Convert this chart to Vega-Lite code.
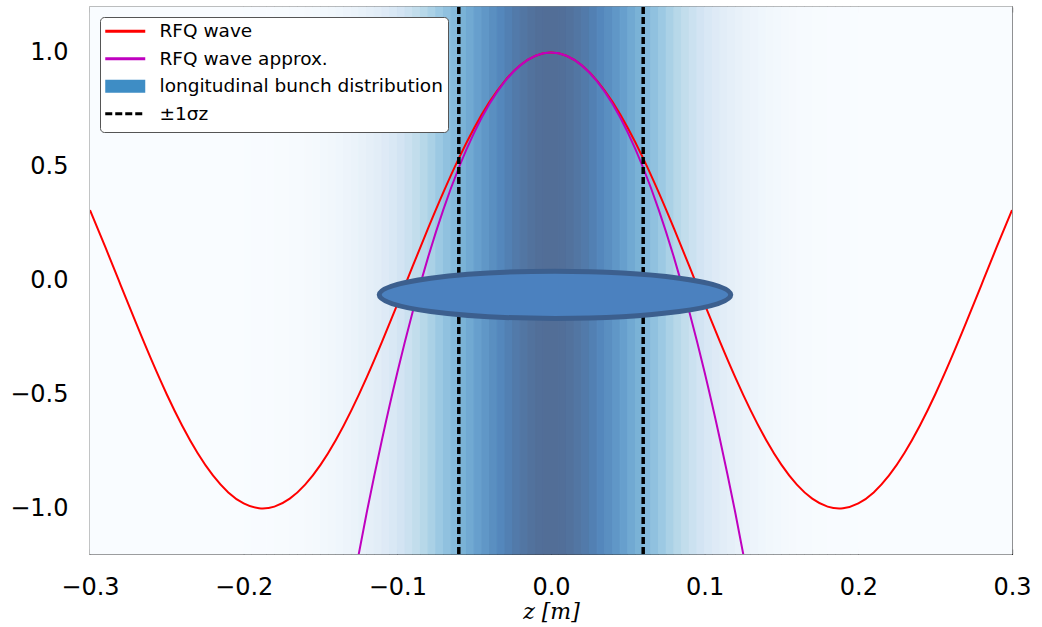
{
  "$schema": "https://vega.github.io/schema/vega-lite/v6.json",
  "width": 922,
  "height": 547,
  "autosize": {"type": "none"},
  "padding": {"left": 90, "top": 7, "right": 30, "bottom": 73},
  "background": "white",
  "config": {
    "view": {"stroke": "black", "strokeWidth": 1.3},
    "axis": {"grid": false, "domain": false, "labelFont": "DejaVu Sans", "labelFontSize": 24, "labelColor": "black", "tickColor": "black", "tickSize": -5, "tickWidth": 1.2, "labelFlush": false, "labelOverlap": false, "zindex": 1},
    "legend": {
      "orient": "top-left", "offset": 10, "padding": 5,
      "fillColor": "white", "strokeColor": "#555555", "cornerRadius": 4,
      "labelFont": "DejaVu Sans", "labelFontSize": 18.5, "labelColor": "black", "labelLimit": 500,
      "symbolSize": 16, "symbolStrokeWidth": 3, "symbolOffset": 11, "labelOffset": 25, "rowPadding": 1.5
    }
  },
  "datasets": {
    "bunch": [
      {"z0": -0.3, "z1": -0.2, "d": 0.001},
      {"z0": -0.2, "z1": -0.195, "d": 0.0044},
      {"z0": -0.195, "z1": -0.19, "d": 0.0058},
      {"z0": -0.19, "z1": -0.185, "d": 0.0076},
      {"z0": -0.185, "z1": -0.18, "d": 0.0098},
      {"z0": -0.18, "z1": -0.175, "d": 0.0126},
      {"z0": -0.175, "z1": -0.17, "d": 0.016},
      {"z0": -0.17, "z1": -0.165, "d": 0.0203},
      {"z0": -0.165, "z1": -0.16, "d": 0.0255},
      {"z0": -0.16, "z1": -0.155, "d": 0.0319},
      {"z0": -0.155, "z1": -0.15, "d": 0.0396},
      {"z0": -0.15, "z1": -0.145, "d": 0.0487},
      {"z0": -0.145, "z1": -0.14, "d": 0.0596},
      {"z0": -0.14, "z1": -0.135, "d": 0.0724},
      {"z0": -0.135, "z1": -0.13, "d": 0.0873},
      {"z0": -0.13, "z1": -0.125, "d": 0.1046},
      {"z0": -0.125, "z1": -0.12, "d": 0.1244},
      {"z0": -0.12, "z1": -0.115, "d": 0.147},
      {"z0": -0.115, "z1": -0.11, "d": 0.1724},
      {"z0": -0.11, "z1": -0.105, "d": 0.2009},
      {"z0": -0.105, "z1": -0.1, "d": 0.2324},
      {"z0": -0.1, "z1": -0.095, "d": 0.2671},
      {"z0": -0.095, "z1": -0.09, "d": 0.3047},
      {"z0": -0.09, "z1": -0.085, "d": 0.3453},
      {"z0": -0.085, "z1": -0.08, "d": 0.3886},
      {"z0": -0.08, "z1": -0.075, "d": 0.4342},
      {"z0": -0.075, "z1": -0.07, "d": 0.4819},
      {"z0": -0.07, "z1": -0.065, "d": 0.5311},
      {"z0": -0.065, "z1": -0.06, "d": 0.5813},
      {"z0": -0.06, "z1": -0.055, "d": 0.6318},
      {"z0": -0.055, "z1": -0.05, "d": 0.6819},
      {"z0": -0.05, "z1": -0.045, "d": 0.731},
      {"z0": -0.045, "z1": -0.04, "d": 0.7781},
      {"z0": -0.04, "z1": -0.035, "d": 0.8226},
      {"z0": -0.035, "z1": -0.03, "d": 0.8636},
      {"z0": -0.03, "z1": -0.025, "d": 0.9003},
      {"z0": -0.025, "z1": -0.02, "d": 0.9321},
      {"z0": -0.02, "z1": -0.015, "d": 0.9584},
      {"z0": -0.015, "z1": -0.01, "d": 0.9785},
      {"z0": -0.01, "z1": -0.005, "d": 0.9922},
      {"z0": -0.005, "z1": 0, "d": 0.9991},
      {"z0": 0, "z1": 0.005, "d": 0.9991},
      {"z0": 0.005, "z1": 0.01, "d": 0.9922},
      {"z0": 0.01, "z1": 0.015, "d": 0.9785},
      {"z0": 0.015, "z1": 0.02, "d": 0.9584},
      {"z0": 0.02, "z1": 0.025, "d": 0.9321},
      {"z0": 0.025, "z1": 0.03, "d": 0.9003},
      {"z0": 0.03, "z1": 0.035, "d": 0.8636},
      {"z0": 0.035, "z1": 0.04, "d": 0.8226},
      {"z0": 0.04, "z1": 0.045, "d": 0.7781},
      {"z0": 0.045, "z1": 0.05, "d": 0.731},
      {"z0": 0.05, "z1": 0.055, "d": 0.6819},
      {"z0": 0.055, "z1": 0.06, "d": 0.6318},
      {"z0": 0.06, "z1": 0.065, "d": 0.5813},
      {"z0": 0.065, "z1": 0.07, "d": 0.5311},
      {"z0": 0.07, "z1": 0.075, "d": 0.4819},
      {"z0": 0.075, "z1": 0.08, "d": 0.4342},
      {"z0": 0.08, "z1": 0.085, "d": 0.3886},
      {"z0": 0.085, "z1": 0.09, "d": 0.3453},
      {"z0": 0.09, "z1": 0.095, "d": 0.3047},
      {"z0": 0.095, "z1": 0.1, "d": 0.2671},
      {"z0": 0.1, "z1": 0.105, "d": 0.2324},
      {"z0": 0.105, "z1": 0.11, "d": 0.2009},
      {"z0": 0.11, "z1": 0.115, "d": 0.1724},
      {"z0": 0.115, "z1": 0.12, "d": 0.147},
      {"z0": 0.12, "z1": 0.125, "d": 0.1244},
      {"z0": 0.125, "z1": 0.13, "d": 0.1046},
      {"z0": 0.13, "z1": 0.135, "d": 0.0873},
      {"z0": 0.135, "z1": 0.14, "d": 0.0724},
      {"z0": 0.14, "z1": 0.145, "d": 0.0596},
      {"z0": 0.145, "z1": 0.15, "d": 0.0487},
      {"z0": 0.15, "z1": 0.155, "d": 0.0396},
      {"z0": 0.155, "z1": 0.16, "d": 0.0319},
      {"z0": 0.16, "z1": 0.165, "d": 0.0255},
      {"z0": 0.165, "z1": 0.17, "d": 0.0203},
      {"z0": 0.17, "z1": 0.175, "d": 0.016},
      {"z0": 0.175, "z1": 0.18, "d": 0.0126},
      {"z0": 0.18, "z1": 0.185, "d": 0.0098},
      {"z0": 0.185, "z1": 0.19, "d": 0.0076},
      {"z0": 0.19, "z1": 0.195, "d": 0.0058},
      {"z0": 0.195, "z1": 0.2, "d": 0.0044},
      {"z0": 0.2, "z1": 0.3, "d": 0.001}
    ],
    "waves": [
      {"z": -0.3, "y": 0.309, "s": "RFQ wave"},
      {"z": -0.29, "y": 0.1461, "s": "RFQ wave"},
      {"z": -0.28, "y": -0.0209, "s": "RFQ wave"},
      {"z": -0.27, "y": -0.1874, "s": "RFQ wave"},
      {"z": -0.26, "y": -0.3486, "s": "RFQ wave"},
      {"z": -0.25, "y": -0.5, "s": "RFQ wave"},
      {"z": -0.24, "y": -0.6374, "s": "RFQ wave"},
      {"z": -0.23, "y": -0.757, "s": "RFQ wave"},
      {"z": -0.22, "y": -0.8554, "s": "RFQ wave"},
      {"z": -0.21, "y": -0.9298, "s": "RFQ wave"},
      {"z": -0.2, "y": -0.9781, "s": "RFQ wave"},
      {"z": -0.19, "y": -0.9991, "s": "RFQ wave"},
      {"z": -0.18, "y": -0.9921, "s": "RFQ wave"},
      {"z": -0.17, "y": -0.9573, "s": "RFQ wave"},
      {"z": -0.16, "y": -0.8957, "s": "RFQ wave"},
      {"z": -0.15, "y": -0.809, "s": "RFQ wave"},
      {"z": -0.14, "y": -0.6997, "s": "RFQ wave"},
      {"z": -0.13, "y": -0.5707, "s": "RFQ wave"},
      {"z": -0.12, "y": -0.4258, "s": "RFQ wave"},
      {"z": -0.11, "y": -0.2689, "s": "RFQ wave"},
      {"z": -0.1, "y": -0.1045, "s": "RFQ wave"},
      {"z": -0.09, "y": 0.0628, "s": "RFQ wave"},
      {"z": -0.08, "y": 0.2284, "s": "RFQ wave"},
      {"z": -0.07, "y": 0.3875, "s": "RFQ wave"},
      {"z": -0.06, "y": 0.5358, "s": "RFQ wave"},
      {"z": -0.05, "y": 0.6691, "s": "RFQ wave"},
      {"z": -0.04, "y": 0.7837, "s": "RFQ wave"},
      {"z": -0.03, "y": 0.8763, "s": "RFQ wave"},
      {"z": -0.02, "y": 0.9444, "s": "RFQ wave"},
      {"z": -0.01, "y": 0.986, "s": "RFQ wave"},
      {"z": 0, "y": 1, "s": "RFQ wave"},
      {"z": 0.01, "y": 0.986, "s": "RFQ wave"},
      {"z": 0.02, "y": 0.9444, "s": "RFQ wave"},
      {"z": 0.03, "y": 0.8763, "s": "RFQ wave"},
      {"z": 0.04, "y": 0.7837, "s": "RFQ wave"},
      {"z": 0.05, "y": 0.6691, "s": "RFQ wave"},
      {"z": 0.06, "y": 0.5358, "s": "RFQ wave"},
      {"z": 0.07, "y": 0.3875, "s": "RFQ wave"},
      {"z": 0.08, "y": 0.2284, "s": "RFQ wave"},
      {"z": 0.09, "y": 0.0628, "s": "RFQ wave"},
      {"z": 0.1, "y": -0.1045, "s": "RFQ wave"},
      {"z": 0.11, "y": -0.2689, "s": "RFQ wave"},
      {"z": 0.12, "y": -0.4258, "s": "RFQ wave"},
      {"z": 0.13, "y": -0.5707, "s": "RFQ wave"},
      {"z": 0.14, "y": -0.6997, "s": "RFQ wave"},
      {"z": 0.15, "y": -0.809, "s": "RFQ wave"},
      {"z": 0.16, "y": -0.8957, "s": "RFQ wave"},
      {"z": 0.17, "y": -0.9573, "s": "RFQ wave"},
      {"z": 0.18, "y": -0.9921, "s": "RFQ wave"},
      {"z": 0.19, "y": -0.9991, "s": "RFQ wave"},
      {"z": 0.2, "y": -0.9781, "s": "RFQ wave"},
      {"z": 0.21, "y": -0.9298, "s": "RFQ wave"},
      {"z": 0.22, "y": -0.8554, "s": "RFQ wave"},
      {"z": 0.23, "y": -0.757, "s": "RFQ wave"},
      {"z": 0.24, "y": -0.6374, "s": "RFQ wave"},
      {"z": 0.25, "y": -0.5, "s": "RFQ wave"},
      {"z": 0.26, "y": -0.3486, "s": "RFQ wave"},
      {"z": 0.27, "y": -0.1874, "s": "RFQ wave"},
      {"z": 0.28, "y": -0.0209, "s": "RFQ wave"},
      {"z": 0.29, "y": 0.1461, "s": "RFQ wave"},
      {"z": 0.3, "y": 0.309, "s": "RFQ wave"},
      {"z": -0.13, "y": -1.3722, "s": "RFQ wave approx."},
      {"z": -0.12, "y": -1.0213, "s": "RFQ wave approx."},
      {"z": -0.11, "y": -0.6985, "s": "RFQ wave approx."},
      {"z": -0.1, "y": -0.4037, "s": "RFQ wave approx."},
      {"z": -0.09, "y": -0.137, "s": "RFQ wave approx."},
      {"z": -0.08, "y": 0.1016, "s": "RFQ wave approx."},
      {"z": -0.07, "y": 0.3122, "s": "RFQ wave approx."},
      {"z": -0.06, "y": 0.4947, "s": "RFQ wave approx."},
      {"z": -0.05, "y": 0.6491, "s": "RFQ wave approx."},
      {"z": -0.04, "y": 0.7754, "s": "RFQ wave approx."},
      {"z": -0.03, "y": 0.8737, "s": "RFQ wave approx."},
      {"z": -0.02, "y": 0.9439, "s": "RFQ wave approx."},
      {"z": -0.01, "y": 0.986, "s": "RFQ wave approx."},
      {"z": 0, "y": 1, "s": "RFQ wave approx."},
      {"z": 0.01, "y": 0.986, "s": "RFQ wave approx."},
      {"z": 0.02, "y": 0.9439, "s": "RFQ wave approx."},
      {"z": 0.03, "y": 0.8737, "s": "RFQ wave approx."},
      {"z": 0.04, "y": 0.7754, "s": "RFQ wave approx."},
      {"z": 0.05, "y": 0.6491, "s": "RFQ wave approx."},
      {"z": 0.06, "y": 0.4947, "s": "RFQ wave approx."},
      {"z": 0.07, "y": 0.3122, "s": "RFQ wave approx."},
      {"z": 0.08, "y": 0.1016, "s": "RFQ wave approx."},
      {"z": 0.09, "y": -0.137, "s": "RFQ wave approx."},
      {"z": 0.1, "y": -0.4037, "s": "RFQ wave approx."},
      {"z": 0.11, "y": -0.6985, "s": "RFQ wave approx."},
      {"z": 0.12, "y": -1.0213, "s": "RFQ wave approx."},
      {"z": 0.13, "y": -1.3722, "s": "RFQ wave approx."}
    ],
    "keys": [
      {"s": "RFQ wave", "z": null, "y": null},
      {"s": "RFQ wave approx.", "z": null, "y": null},
      {"s": "longitudinal bunch distribution", "z": null, "y": null},
      {"s": "±1σz", "z": null, "y": null}
    ],
    "sig": [
      {"z": -0.06},
      {"z": 0.06}
    ],
    "ell": [
      {"z": 0.0026, "y": -0.063}
    ]
  },
  "layer": [
    {
      "data": {"name": "bunch"},
      "mark": {"type": "rect", "strokeWidth": 1},
      "encoding": {
        "x": {"field": "z0", "type": "quantitative", "scale": {"domain": [-0.3, 0.3], "nice": false, "zero": false},
          "axis": {"orient": "bottom", "values": [-0.3, -0.2, -0.1, 0, 0.1, 0.2, 0.3], "format": ".1f", "labelPadding": 26, "title": "z [m]", "titleFont": "DejaVu Serif", "titleFontStyle": "italic", "titleFontWeight": "normal", "titleFontSize": 22, "titleColor": "black", "titlePadding": 2}},
        "x2": {"field": "z1"},
        "fill": {"field": "d", "type": "quantitative", "legend": null,
          "scale": {"type": "linear", "domain": [0, 0.125, 0.25, 0.375, 0.5, 0.625, 0.75, 0.875, 1], "range": ["#f9fcff", "#e8f1f9", "#d7e6f4", "#bbdaea", "#97c6e2", "#7bb3d7", "#649ccb", "#5285ba", "#526e97"], "interpolate": "rgb"}},
        "stroke": {"field": "d", "type": "quantitative", "legend": null,
          "scale": {"type": "linear", "domain": [0, 0.125, 0.25, 0.375, 0.5, 0.625, 0.75, 0.875, 1], "range": ["#f9fcff", "#e8f1f9", "#d7e6f4", "#bbdaea", "#97c6e2", "#7bb3d7", "#649ccb", "#5285ba", "#526e97"], "interpolate": "rgb"}}
      }
    },
    {
      "data": {"name": "keys"},
      "mark": {"type": "point", "filled": false, "opacity": 1, "strokeWidth": 3, "clip": true},
      "encoding": {
        "x": {"field": "z", "type": "quantitative", "axis": null},
        "y": {"field": "y", "type": "quantitative", "axis": null},
        "color": {"field": "s", "type": "nominal", "title": null,
          "scale": {"domain": ["RFQ wave", "RFQ wave approx.", "longitudinal bunch distribution", "±1σz"], "range": ["#ff0000", "#bf00bf", "#3e8dc5", "#000000"]}},
        "shape": {"field": "s", "type": "nominal", "title": null,
          "scale": {"domain": ["RFQ wave", "RFQ wave approx.", "longitudinal bunch distribution", "±1σz"],
            "range": [
              "M -10 0 L 10 0 M -10 -3.25 M 10 3.25",
              "M -10 0 L 10 0 M -10 -3.25 M 10 3.25",
              "M -10 -2.5 L 10 -2.5 M -10 -1.25 L 10 -1.25 M -10 0 L 10 0 M -10 1.25 L 10 1.25 M -10 2.5 L 10 2.5 M -10 -3.25 M 10 3.25",
              "M -10 0 L 10 0 M -10 -3.25 M 10 3.25"
            ]}},
        "strokeDash": {"field": "s", "type": "nominal", "title": null,
          "scale": {"domain": ["RFQ wave", "RFQ wave approx.", "longitudinal bunch distribution", "±1σz"], "range": [[1, 0], [1, 0], [1, 0], [7, 3]]}}
      }
    },
    {
      "data": {"name": "waves"},
      "mark": {"type": "line", "clip": true, "interpolate": "natural", "strokeWidth": 2},
      "encoding": {
        "x": {"field": "z", "type": "quantitative", "axis": null},
        "y": {"field": "y", "type": "quantitative", "scale": {"domain": [-1.2, 1.2], "nice": false, "zero": false},
          "axis": {"orient": "left", "values": [-1, -0.5, 0, 0.5, 1], "format": ".1f", "labelPadding": 27, "title": null}},
        "color": {"field": "s", "type": "nominal", "title": null}
      }
    },
    {
      "data": {"name": "sig"},
      "mark": {"type": "rule", "color": "black", "strokeWidth": 3.5, "strokeDash": [7, 3]},
      "encoding": {
        "x": {"field": "z", "type": "quantitative",
          "axis": {"orient": "top", "values": [-0.3, -0.2, -0.1, 0, 0.1, 0.2, 0.3], "labels": false, "title": null}}
      }
    },
    {
      "data": {"name": "ell"},
      "mark": {"type": "point", "shape": "M -1 0 A 1 0.134 0 1 1 1 0 A 1 0.134 0 1 1 -1 0 Z", "size": 123600, "filled": true, "fill": "#4b81bf", "stroke": "#3c5f8e", "strokeWidth": 5, "opacity": 1},
      "encoding": {
        "x": {"field": "z", "type": "quantitative", "axis": null},
        "y": {"field": "y", "type": "quantitative", "axis": null}
      }
    }
  ],
  "resolve": {"axis": {"x": "independent", "y": "independent"}}
}
